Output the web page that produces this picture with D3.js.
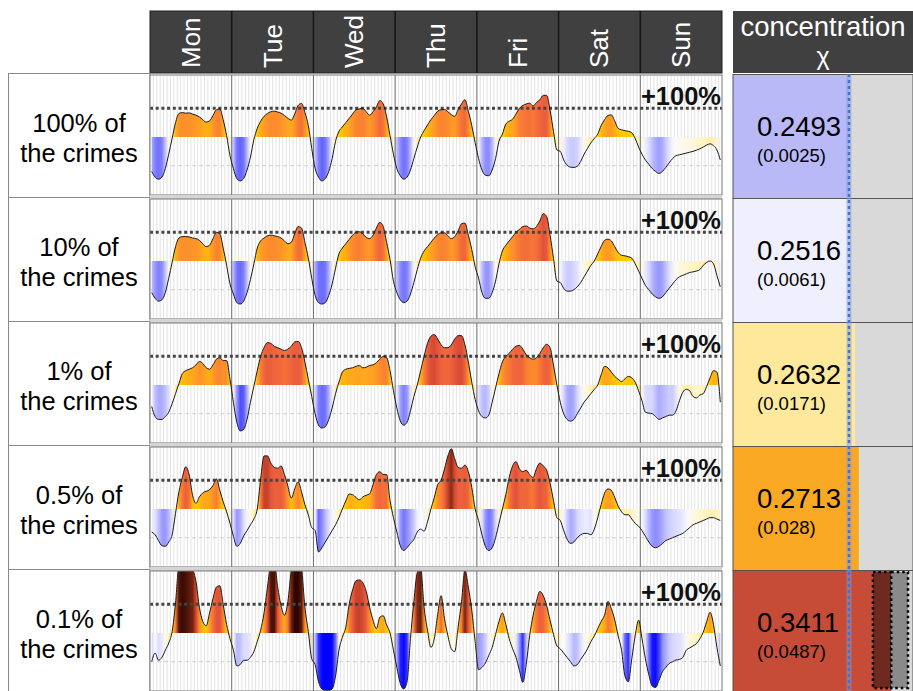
<!DOCTYPE html>
<html>
<head>
<meta charset="utf-8">
<script src="https://cdn.jsdelivr.net/npm/d3@7"></script>
<style>
  body { margin: 0; background: #fff; }
  svg { display: block; font-family: "Liberation Sans", Arial, sans-serif; }
</style>
</head>
<body>
<div id="chart"></div>
<script>
// ---- data ------------------------------------------------------------
var days = ["Mon", "Tue", "Wed", "Thu", "Fri", "Sat", "Sun"];
var rowLabels = [
  ["100% of", "the crimes"],
  ["10% of", "the crimes"],
  ["1% of", "the crimes"],
  ["0.5% of", "the crimes"],
  ["0.1% of", "the crimes"]
];
var concentration = [0.2493, 0.2516, 0.2632, 0.2713, 0.3411];
var concentrationSd = [0.0025, 0.0061, 0.0171, 0.028, 0.0487];
var ciLow = [null, null, null, null, 0.3017];
var ciHigh = [null, null, null, null, 0.3772];
var uniformLevel = 0.25;

// hourly deviation from the mean (1 = +100%), one sub-array per weekday
var crimes100 = [
  [-1.2, -1.4, -1.47, -1.4, -1.1, -0.6, -0.05, 0.5, 0.82, 0.85, 0.83, 0.84, 0.8, 0.76, 0.7, 0.6, 0.52, 0.56, 0.75, 0.95, 0.98, 0.6, 0.05, -0.65],
  [-1.1, -1.45, -1.53, -1.45, -1.15, -0.7, -0.1, 0.3, 0.55, 0.72, 0.82, 0.88, 0.9, 0.87, 0.83, 0.75, 0.65, 0.59, 0.8, 1.1, 1.17, 0.85, 0.4, -0.4],
  [-1.1, -1.4, -1.53, -1.45, -1.2, -0.75, -0.15, 0.2, 0.35, 0.5, 0.65, 0.8, 0.95, 0.98, 1.0, 0.88, 0.76, 0.88, 1.05, 1.27, 1.15, 0.7, 0.05, -0.6],
  [-1.1, -1.35, -1.47, -1.4, -1.15, -0.75, -0.35, 0.0, 0.22, 0.42, 0.6, 0.75, 0.9, 0.95, 0.96, 0.88, 0.78, 0.72, 0.96, 1.15, 1.3, 0.9, 0.4, -0.2],
  [-0.75, -1.15, -1.33, -1.35, -1.15, -0.75, -0.15, 0.1, 0.45, 0.55, 0.62, 0.8, 1.0, 1.1, 1.15, 1.18, 1.08, 1.2, 1.3, 1.45, 1.45, 0.94, 0.2, -0.45],
  [-0.5, -0.8, -0.98, -1.05, -1.06, -1.02, -0.85, -0.6, -0.4, -0.2, -0.05, 0.1, 0.4, 0.6, 0.75, 0.77, 0.55, 0.3, 0.25, 0.22, 0.2, 0.15, -0.05, -0.35],
  [-0.6, -0.8, -0.95, -1.1, -1.2, -1.27, -1.2, -1.06, -0.9, -0.75, -0.65, -0.62, -0.59, -0.56, -0.53, -0.5, -0.46, -0.41, -0.35, -0.28, -0.24, -0.3, -0.45, -0.8]
];
var crimes10 = [
  [-1.1, -1.3, -1.4, -1.35, -1.1, -0.6, -0.05, 0.5, 0.8, 0.85, 0.85, 0.84, 0.8, 0.78, 0.72, 0.6, 0.5, 0.55, 0.78, 1.0, 0.95, 0.45, -0.15, -0.8],
  [-1.15, -1.45, -1.5, -1.4, -1.1, -0.65, -0.1, 0.45, 0.7, 0.8, 0.88, 0.9, 0.88, 0.85, 0.8, 0.7, 0.6, 0.65, 0.95, 1.2, 1.15, 0.65, 0.1, -0.6],
  [-1.2, -1.45, -1.5, -1.45, -1.2, -0.8, -0.25, 0.25, 0.45, 0.6, 0.75, 0.9, 1.0, 1.02, 0.95, 0.82, 0.78, 0.9, 1.15, 1.35, 1.2, 0.65, 0.05, -0.7],
  [-1.1, -1.35, -1.45, -1.4, -1.15, -0.75, -0.3, 0.1, 0.35, 0.5, 0.65, 0.8, 0.92, 0.98, 0.98, 0.88, 0.78, 0.85, 1.05, 1.3, 1.32, 0.9, 0.4, -0.2],
  [-0.6, -1.1, -1.3, -1.3, -1.1, -0.7, -0.1, 0.35, 0.55, 0.7, 0.85, 1.0, 1.1, 1.2, 1.22, 1.15, 1.12, 1.2, 1.4, 1.65, 1.55, 0.9, 0.1, -0.7],
  [-0.75, -0.95, -1.05, -1.05, -1.0, -0.9, -0.75, -0.55, -0.35, -0.15, 0.0, 0.25, 0.5, 0.72, 0.76, 0.7, 0.5, 0.3, 0.2, 0.18, 0.15, 0.1, -0.1, -0.35],
  [-0.6, -0.85, -1.0, -1.15, -1.25, -1.3, -1.25, -1.1, -0.95, -0.8, -0.65, -0.55, -0.5, -0.45, -0.4, -0.38, -0.35, -0.3, -0.15, -0.05, 0.0, -0.1, -0.5, -0.9]
];
var crimes1 = [
  [-0.75, -1.1, -1.2, -1.2, -1.1, -0.95, -0.65, -0.3, 0.05, 0.4, 0.5, 0.55, 0.6, 0.7, 0.82, 0.75, 0.6, 0.55, 0.7, 0.9, 0.95, 0.85, 0.85, 0.2],
  [-0.6, -1.3, -1.6, -1.55, -1.2, -0.6, -0.05, 0.5, 1.0, 1.3, 1.48, 1.45, 1.35, 1.3, 1.25, 1.2, 1.25, 1.35, 1.5, 1.52, 1.3, 0.8, 0.2, -0.4],
  [-1.0, -1.4, -1.5, -1.45, -1.2, -0.8, -0.3, 0.1, 0.45, 0.55, 0.58, 0.6, 0.65, 0.68, 0.6, 0.62, 0.68, 0.7, 0.78, 0.9, 1.0, 0.95, 0.5, -0.2],
  [-0.8, -1.25, -1.4, -1.3, -0.9, -0.4, 0.0, 0.5, 1.0, 1.45, 1.7, 1.76, 1.6, 1.4, 1.3, 1.3, 1.4, 1.6, 1.72, 1.72, 1.4, 0.8, 0.1, -0.5],
  [-0.9, -1.1, -1.15, -1.05, -0.6, -0.1, 0.4, 0.8, 1.0, 1.1, 1.25, 1.35, 1.38, 1.25, 1.05, 0.95, 0.9, 0.95, 1.1, 1.3, 1.42, 1.3, 0.7, 0.0],
  [-0.6, -1.0, -1.2, -1.26, -1.2, -1.0, -0.8, -0.6, -0.45, -0.3, -0.15, 0.0, 0.35, 0.65, 0.6, 0.45, 0.3, 0.2, 0.12, 0.22, 0.3, 0.25, 0.1, -0.2],
  [-0.55, -0.95, -0.98, -1.0, -1.1, -1.2, -1.15, -1.1, -1.05, -1.05, -0.9, -0.55, -0.25, -0.15, -0.2, -0.4, -0.45, -0.35, -0.3, -0.05, 0.25, 0.5, 0.45, -0.6]
];
var crimes05 = [
  [-0.8, -0.9, -1.1, -1.28, -1.3, -1.15, -0.9, -0.15, 0.6, 1.1, 1.47, 1.2, 0.48, 0.2, 0.42, 0.56, 0.62, 0.67, 0.82, 1.05, 0.65, 0.25, -0.1, -0.5],
  [-0.95, -1.3, -1.2, -0.94, -0.75, -0.55, -0.35, 0.0, 1.05, 1.85, 1.85, 1.6, 1.45, 1.42, 1.5, 1.2, 0.8, 0.38, 0.7, 0.95, 0.6, 0.15, -0.2, -0.65],
  [-0.75, -1.5, -1.35, -1.15, -0.95, -0.75, -0.55, -0.3, 0.0, 0.28, 0.52, 0.5, 0.4, 0.32, 0.42, 0.48, 0.53, 0.85, 1.2, 1.3, 1.2, 1.2, 0.3, -0.3],
  [-0.8, -1.28, -1.45, -1.35, -1.2, -1.06, -0.8, -0.7, -0.77, -0.45, 0.0, 0.4, 0.85, 1.0, 1.4, 1.85, 2.1, 1.75, 1.45, 1.42, 1.53, 1.3, 0.76, 0.0],
  [-0.4, -0.9, -1.3, -1.45, -1.35, -1.0, -0.5, 0.0, 0.5, 1.1, 1.5, 1.65, 1.4, 1.3, 1.35, 1.2, 1.1, 1.4, 1.6, 1.5, 1.35, 0.9, 0.3, -0.3],
  [-0.4, -0.75, -1.05, -1.2, -1.15, -1.0, -0.9, -0.85, -0.85, -0.9, -0.7, -0.3, 0.15, 0.55, 0.7, 0.65, 0.4, 0.1, -0.1, -0.2, -0.2, -0.35, -0.5, -0.6],
  [-0.75, -0.95, -1.15, -1.3, -1.35, -1.3, -1.2, -1.1, -1.05, -1.0, -0.95, -0.9, -0.85, -0.75, -0.65, -0.55, -0.5, -0.45, -0.4, -0.35, -0.3, -0.3, -0.35, -0.4]
];
var crimes01 = [
  [-1.0, -0.7, -0.95, -0.85, -0.6, -0.35, 0.05, 1.05, 2.4, 2.6, 2.5, 2.3, 2.2, 1.8, 0.9, 0.4, 0.25, 0.7, 1.2, 1.6, 1.65, 1.0, 0.3, -0.2],
  [-0.6, -1.15, -1.1, -0.95, -0.95, -0.85, -0.65, -0.3, 0.1, 0.7, 1.6, 2.4, 2.5, 1.6, 0.95, 0.62, 1.1, 2.2, 2.7, 2.8, 2.3, 0.9, 0.05, -0.9],
  [-1.1, -1.7, -1.95, -2.0, -2.0, -1.95, -1.5, -0.6, -0.15, 0.2, 1.0, 1.5, 1.82, 1.85, 1.75, 1.45, 0.9, 0.45, 0.15, 0.55, 0.6, 0.28, 0.0, -0.6],
  [-1.2, -1.75, -1.95, -1.7, -0.2, 1.1, 2.1, 2.25, 0.9, 0.1, -0.5, -0.2, 0.65, 1.3, 0.5, -0.1, -0.55, -0.65, 0.2, 1.1, 2.2, 1.6, 0.8, -0.3],
  [-1.28, -1.2, -1.05, -0.78, -0.5, -0.05, 0.4, 0.7, 0.3, -0.2, -0.55, -0.85, -1.3, -1.72, -1.1, -0.1, 0.6, 1.1, 1.45, 1.3, 0.95, 0.45, -0.05, -0.45],
  [-0.55, -0.7, -0.85, -1.0, -1.15, -1.1, -0.92, -0.75, -0.55, -0.3, -0.1, 0.15, 0.4, 0.62, 1.1, 0.85, 0.45, -0.1, -0.6, -1.5, -1.7, -0.9, -0.1, 0.45],
  [-0.2, -0.9, -1.45, -1.85, -1.9, -1.65, -1.35, -1.2, -1.06, -1.0, -0.94, -0.92, -0.85, -0.6, -0.52, -0.45, -0.37, -0.2, 0.03, 0.4, 0.72, 0.3, -0.5, -1.15]
];
var rows = [crimes100, crimes10, crimes1, crimes05, crimes01].map(r => d3.merge(r));

// ---- layout ----------------------------------------------------------
var svgWidth = 913;
var svgHeight = 691;
var panelLeft = 150;
var panelRight = 722;
var rowStep = 124;
var panelTop0 = 75;
var panelHeight = 120;
var baseOffset = 62;
var unitPx = 28.7;
var headerTop = 11;
var headerBottom = 73;
var cellLeft = 733;
var cellRight = 913;

var svg = d3.select("#chart")
  .append("svg")
  .attr("width", svgWidth)
  .attr("height", svgHeight);

var defs = svg.append("defs");

var xScale = d3.scaleLinear()
  .domain([0, 168])
  .range([panelLeft, panelRight]);

var dayScale = d3.scaleBand()
  .domain(days)
  .range([panelLeft, panelRight]);

// deviation -> fill colour
var colorScale = d3.scaleLinear()
  .domain([-2.0, -1.75, -1.5, -1.25, -1.0, -0.7, -0.35, -0.001, 0.001, 0.3, 0.65, 0.95, 1.25, 1.55, 1.8, 2.05, 2.3, 2.7])
  .range(["#0000ff", "#2424ff", "#6a6aff", "#a2a2ff", "#d6d6ff", "#fbfbff", "#fff4bf", "#ffe98a",
          "#ffd500", "#ffc400", "#ffa41f", "#fb8630", "#f26a3a", "#e85a3e", "#d2472f", "#963019", "#5c1a0c", "#2e0600"])
  .clamp(true);

var cellColor = d3.scaleLinear()
  .domain([0.245, 0.2493, 0.2516, 0.2632, 0.2713, 0.3411])
  .range(["#9c9cf5", "#b9b9f8", "#efeffd", "#fde89b", "#f8a823", "#c64c38"])
  .clamp(true);

var xConc = d3.scaleLinear()
  .domain([0, 0.388])
  .range([cellLeft, cellRight]);

// ---- header ----------------------------------------------------------
svg.append("rect")
  .attr("x", panelLeft).attr("y", headerTop)
  .attr("width", panelRight - panelLeft).attr("height", headerBottom - headerTop)
  .attr("fill", "#404040").attr("stroke", "#222");

svg.selectAll(".daysep")
  .data(days.slice(1))
  .enter()
  .append("line")
  .attr("x1", d => dayScale(d)).attr("x2", d => dayScale(d))
  .attr("y1", headerTop).attr("y2", headerBottom)
  .attr("stroke", "#151515").attr("stroke-width", 1.5);

svg.selectAll(".dayname")
  .data(days)
  .enter()
  .append("text")
  .attr("transform", d => `translate(${dayScale(d) + dayScale.bandwidth() / 2 + 9}, 68) rotate(-90)`)
  .attr("fill", "#fff")
  .attr("font-size", "26px")
  .text(d => d);

svg.append("rect")
  .attr("x", cellLeft).attr("y", headerTop)
  .attr("width", cellRight - cellLeft).attr("height", headerBottom - headerTop)
  .attr("fill", "#404040");

svg.append("text")
  .attr("x", (cellLeft + cellRight) / 2).attr("y", 35.5)
  .attr("text-anchor", "middle").attr("fill", "#fff")
  .attr("font-size", "27.5px")
  .text("concentration");
svg.append("text")
  .attr("x", (cellLeft + cellRight) / 2).attr("y", 64.5)
  .attr("text-anchor", "middle").attr("fill", "#fff")
  .attr("font-size", "25px")
  .text("χ");

// ---- rows ------------------------------------------------------------
rows.forEach(function (vals, r) {
  var top = panelTop0 + r * rowStep;
  var base = top + baseOffset;
  var yScale = d3.scaleLinear().domain([0, 1]).range([base, base - unitPx]);
  var boxTop = 73.5 + r * rowStep;

  // label box
  svg.append("rect")
    .attr("x", 8.5).attr("y", boxTop)
    .attr("width", panelLeft - 8.5).attr("height", rowStep)
    .attr("fill", "#fff").attr("stroke", "#8a8a8a");

  svg.append("text")
    .attr("x", 79).attr("y", boxTop + 58.5)
    .attr("text-anchor", "middle").attr("font-size", "25.5px").attr("fill", "#000")
    .text(rowLabels[r][0]);
  svg.append("text")
    .attr("x", 79).attr("y", boxTop + 88)
    .attr("text-anchor", "middle").attr("font-size", "25.5px").attr("fill", "#000")
    .text(rowLabels[r][1]);

  // gap band between panels
  if (r > 0) {
    svg.append("rect")
      .attr("x", panelLeft).attr("y", top - 4)
      .attr("width", panelRight - panelLeft).attr("height", 4)
      .attr("fill", "#d4d4d4");
  }

  var g = svg.append("g");

  g.append("clipPath").attr("id", "clip" + r)
    .append("rect")
    .attr("x", panelLeft).attr("y", top)
    .attr("width", panelRight - panelLeft).attr("height", panelHeight);

  g.append("rect")
    .attr("x", panelLeft).attr("y", top)
    .attr("width", panelRight - panelLeft).attr("height", panelHeight)
    .attr("fill", "#fff");

  // hourly grid
  g.selectAll(".hour")
    .data(d3.range(1, 168).filter(h => h % 24 !== 0))
    .enter()
    .append("line")
    .attr("x1", h => xScale(h)).attr("x2", h => xScale(h))
    .attr("y1", top).attr("y2", top + panelHeight)
    .attr("stroke", "#dcdcdc").attr("stroke-width", 0.8);

  // -100% guide
  g.append("line")
    .attr("x1", panelLeft).attr("x2", panelRight)
    .attr("y1", yScale(-1)).attr("y2", yScale(-1))
    .attr("stroke", "#cfcfcf").attr("stroke-dasharray", "4,3");

  // gradient fill following the value at each hour
  var grad = defs.append("linearGradient")
    .attr("id", "fill" + r)
    .attr("gradientUnits", "userSpaceOnUse")
    .attr("x1", panelLeft).attr("x2", panelRight)
    .attr("y1", 0).attr("y2", 0);
  grad.selectAll("stop")
    .data(vals)
    .enter()
    .append("stop")
    .attr("offset", (d, i) => (i + 0.5) / 168)
    .attr("stop-color", d => colorScale(d));

  var area = d3.area()
    .x((d, i) => xScale(i + 0.5))
    .y0(base)
    .y1(d => yScale(d))
    .curve(d3.curveMonotoneX);

  var line = d3.line()
    .x((d, i) => xScale(i + 0.5))
    .y(d => yScale(d))
    .curve(d3.curveMonotoneX);

  var inner = g.append("g").attr("clip-path", `url(#clip${r})`);

  inner.append("path")
    .datum(vals)
    .attr("d", area)
    .attr("fill", `url(#fill${r})`);

  // day separators
  inner.selectAll(".sep")
    .data(days.slice(1))
    .enter()
    .append("line")
    .attr("x1", d => dayScale(d)).attr("x2", d => dayScale(d))
    .attr("y1", top).attr("y2", top + panelHeight)
    .attr("stroke", "#6a6a6a").attr("stroke-width", 1);

  // +100% reference
  inner.append("line")
    .attr("x1", panelLeft).attr("x2", panelRight)
    .attr("y1", yScale(1)).attr("y2", yScale(1))
    .attr("stroke", "#444").attr("stroke-width", 3)
    .attr("stroke-dasharray", "3,2.7");

  inner.append("path")
    .datum(vals)
    .attr("d", line)
    .attr("fill", "none")
    .attr("stroke", "#1a1a1a")
    .attr("stroke-width", 1);

  g.append("text")
    .attr("x", panelRight - 1).attr("y", yScale(1) - 3)
    .attr("text-anchor", "end")
    .attr("font-size", "25.5px").attr("font-weight", "bold")
    .attr("fill", "#111")
    .text("+100%");

  g.append("rect")
    .attr("x", panelLeft).attr("y", top)
    .attr("width", panelRight - panelLeft).attr("height", panelHeight)
    .attr("fill", "none").attr("stroke", "#777");

  // concentration cell
  var cellTop = 74.5 + r * rowStep;
  var cell = svg.append("g");
  cell.append("rect")
    .attr("x", cellLeft).attr("y", cellTop)
    .attr("width", cellRight - cellLeft).attr("height", rowStep)
    .attr("fill", "#d9d9d9");
  cell.append("rect")
    .attr("x", cellLeft).attr("y", cellTop)
    .attr("width", xConc(concentration[r]) - cellLeft).attr("height", rowStep)
    .attr("fill", cellColor(concentration[r]));

  if (ciLow[r] !== null) {
    cell.append("rect")
      .attr("x", xConc(ciLow[r])).attr("y", cellTop + 1.5)
      .attr("width", xConc(concentration[r]) - xConc(ciLow[r])).attr("height", 116)
      .attr("fill", "#6e2a20")
      .attr("stroke", "#000").attr("stroke-width", 2.5).attr("stroke-dasharray", "2.5,3");
    cell.append("rect")
      .attr("x", xConc(concentration[r])).attr("y", cellTop + 1.5)
      .attr("width", xConc(ciHigh[r]) - xConc(concentration[r])).attr("height", 116)
      .attr("fill", "#8a8a8a")
      .attr("stroke", "#000").attr("stroke-width", 2.5).attr("stroke-dasharray", "2.5,3");
  }

  cell.append("rect")
    .attr("x", cellLeft).attr("y", cellTop)
    .attr("width", cellRight - cellLeft).attr("height", rowStep)
    .attr("fill", "none").attr("stroke", "#555");

  cell.append("text")
    .attr("x", 757).attr("y", cellTop + 61)
    .attr("font-size", "27.5px").attr("fill", "#000")
    .text(d3.format(".4f")(concentration[r]));
  cell.append("text")
    .attr("x", 757).attr("y", cellTop + 87)
    .attr("font-size", "18.5px").attr("fill", "#000")
    .text("(" + concentrationSd[r] + ")");
});

// uniform reference line across the concentration column
var xu = xConc(uniformLevel);
svg.append("rect")
  .attr("x", xu - 2.5).attr("y", 74)
  .attr("width", 5).attr("height", svgHeight - 74)
  .attr("fill", "#7f9bd4").attr("opacity", 0.5);
svg.append("line")
  .attr("x1", xu).attr("x2", xu)
  .attr("y1", 74).attr("y2", svgHeight)
  .attr("stroke", "#3f74d6").attr("stroke-width", 2.5)
  .attr("stroke-dasharray", "3,3");
</script>
</body>
</html>
